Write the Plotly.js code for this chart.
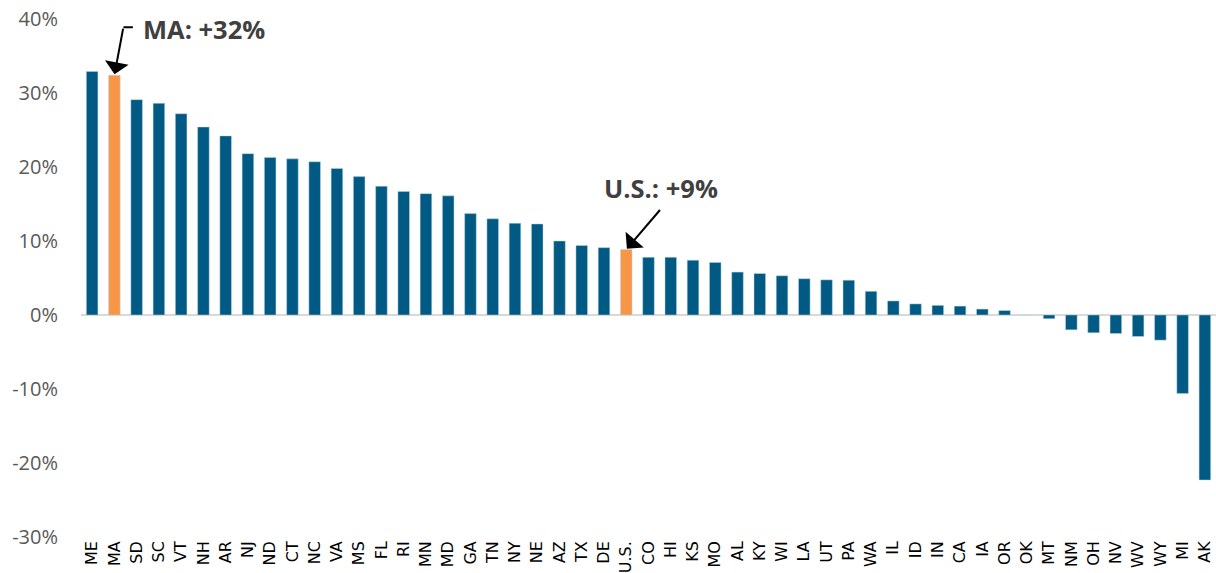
<!DOCTYPE html>
<html>
<head>
<meta charset="utf-8">
<script src="https://cdn.plot.ly/plotly-3.0.1.min.js"></script>
<style>
  html, body { margin: 0; padding: 0; background: #fff; }
  #plot { width: 1216px; height: 573px; }
</style>
</head>
<body>
<div id="plot"></div>
<script>
var states = ['ME', 'MA', 'SD', 'SC', 'VT', 'NH', 'AR', 'NJ', 'ND', 'CT', 'NC', 'VA', 'MS', 'FL', 'RI',
  'MN', 'MD', 'GA', 'TN', 'NY', 'NE', 'AZ', 'TX', 'DE', 'U.S.', 'CO', 'HI', 'KS', 'MO', 'AL', 'KY',
  'WI', 'LA', 'UT', 'PA', 'WA', 'IL', 'ID', 'IN', 'CA', 'IA', 'OR', 'OK', 'MT', 'NM', 'OH', 'NV',
  'WV', 'WY', 'MI', 'AK'];

var change = [32.9, 32.4, 29.1, 28.6, 27.2, 25.4, 24.2, 21.8, 21.3, 21.1, 20.7, 19.8, 18.7, 17.4, 16.7,
  16.4, 16.1, 13.7, 13.0, 12.4, 12.3, 10.0, 9.4, 9.1, 8.85, 7.8, 7.8, 7.4, 7.1, 5.8, 5.6,
  5.3, 4.9, 4.75, 4.7, 3.2, 1.9, 1.5, 1.3, 1.2, 0.8, 0.6, 0, -0.5, -2.0, -2.4, -2.5,
  -2.9, -3.4, -10.6, -22.3];

var highlight = ['MA', 'U.S.'];

var yTicks = [-30, -20, -10, 0, 10, 20, 30, 40];
var yTickText = ['-30%', '-20%', '-10%', '0%', '10%', '20%', '30%', '40%'];

var blue = 'rgb(0,90,132)';
var orange = 'rgb(247,150,70)';

var barColors = states.map(function (s) {
  return highlight.indexOf(s) >= 0 ? orange : blue;
});

var trace1 = {
  x: states,
  y: change,
  type: 'bar',
  marker: {
    color: barColors,
    line: { color: 'rgba(190,215,230,0.8)', width: 0.6 }
  },
  hoverinfo: 'x+y'
};

var maIdx = states.indexOf('MA');
var usIdx = states.indexOf('U.S.');

var layout = {
  width: 1216,
  height: 573,
  margin: { l: 81, r: 0, t: 19, b: 36 },
  paper_bgcolor: '#fff',
  plot_bgcolor: '#fff',
  showlegend: false,
  bargap: 0.48,
  font: { family: 'Open Sans, sans-serif', color: '#595959' },
  xaxis: {
    type: 'category',
    range: [-0.5, states.length - 0.5],
    tickangle: -90,
    ticks: '',
    showline: false,
    showgrid: false,
    automargin: false,
    tickfont: { family: 'DejaVu Sans, sans-serif', size: 16, color: '#000' }
  },
  yaxis: {
    range: [-30, 40],
    tickvals: yTicks,
    ticktext: yTickText,
    showgrid: false,
    showline: false,
    zeroline: true,
    zerolinecolor: '#d9d9d9',
    zerolinewidth: 2,
    ticks: '',
    ticklabelstandoff: 22,
    automargin: false,
    tickfont: { family: 'Open Sans, sans-serif', size: 20, color: '#595959' }
  },
  annotations: [
    // MA arrow
    {
      x: 'MA', y: change[maIdx], xref: 'x', yref: 'y',
      text: '', showarrow: true, arrowhead: 1, arrowsize: 2, arrowwidth: 2, arrowcolor: '#000',
      ax: 9, ay: -48, standoff: 1
    },
    // MA elbow
    {
      x: 'MA', y: change[maIdx], xref: 'x', yref: 'y',
      xshift: 9, yshift: 48,
      text: '', showarrow: true, arrowhead: 0, arrowwidth: 2, arrowcolor: '#000',
      ax: 11, ay: 0, standoff: 0, startstandoff: 0
    },
    {
      x: 'MA', y: change[maIdx], xref: 'x', yref: 'y',
      xshift: 27, yshift: 46, xanchor: 'left', yanchor: 'middle',
      text: '<b>MA: +32%</b>', showarrow: false,
      font: { family: 'Open Sans, sans-serif', size: 25.5, color: '#404040' }
    },
    // U.S. arrow
    {
      x: 'U.S.', y: change[usIdx], xref: 'x', yref: 'y',
      text: '', showarrow: true, arrowhead: 1, arrowsize: 2, arrowwidth: 2, arrowcolor: '#000',
      ax: 35, ay: -41, standoff: 1
    },
    {
      x: 'U.S.', y: change[usIdx], xref: 'x', yref: 'y',
      xshift: 35, yshift: 62, xanchor: 'center', yanchor: 'middle',
      text: '<b>U.S.: +9%</b>', showarrow: false,
      font: { family: 'Open Sans, sans-serif', size: 25.5, color: '#404040' }
    }
  ]
};

Plotly.newPlot('plot', [trace1], layout, { displayModeBar: false, staticPlot: true });
</script>
</body>
</html>
